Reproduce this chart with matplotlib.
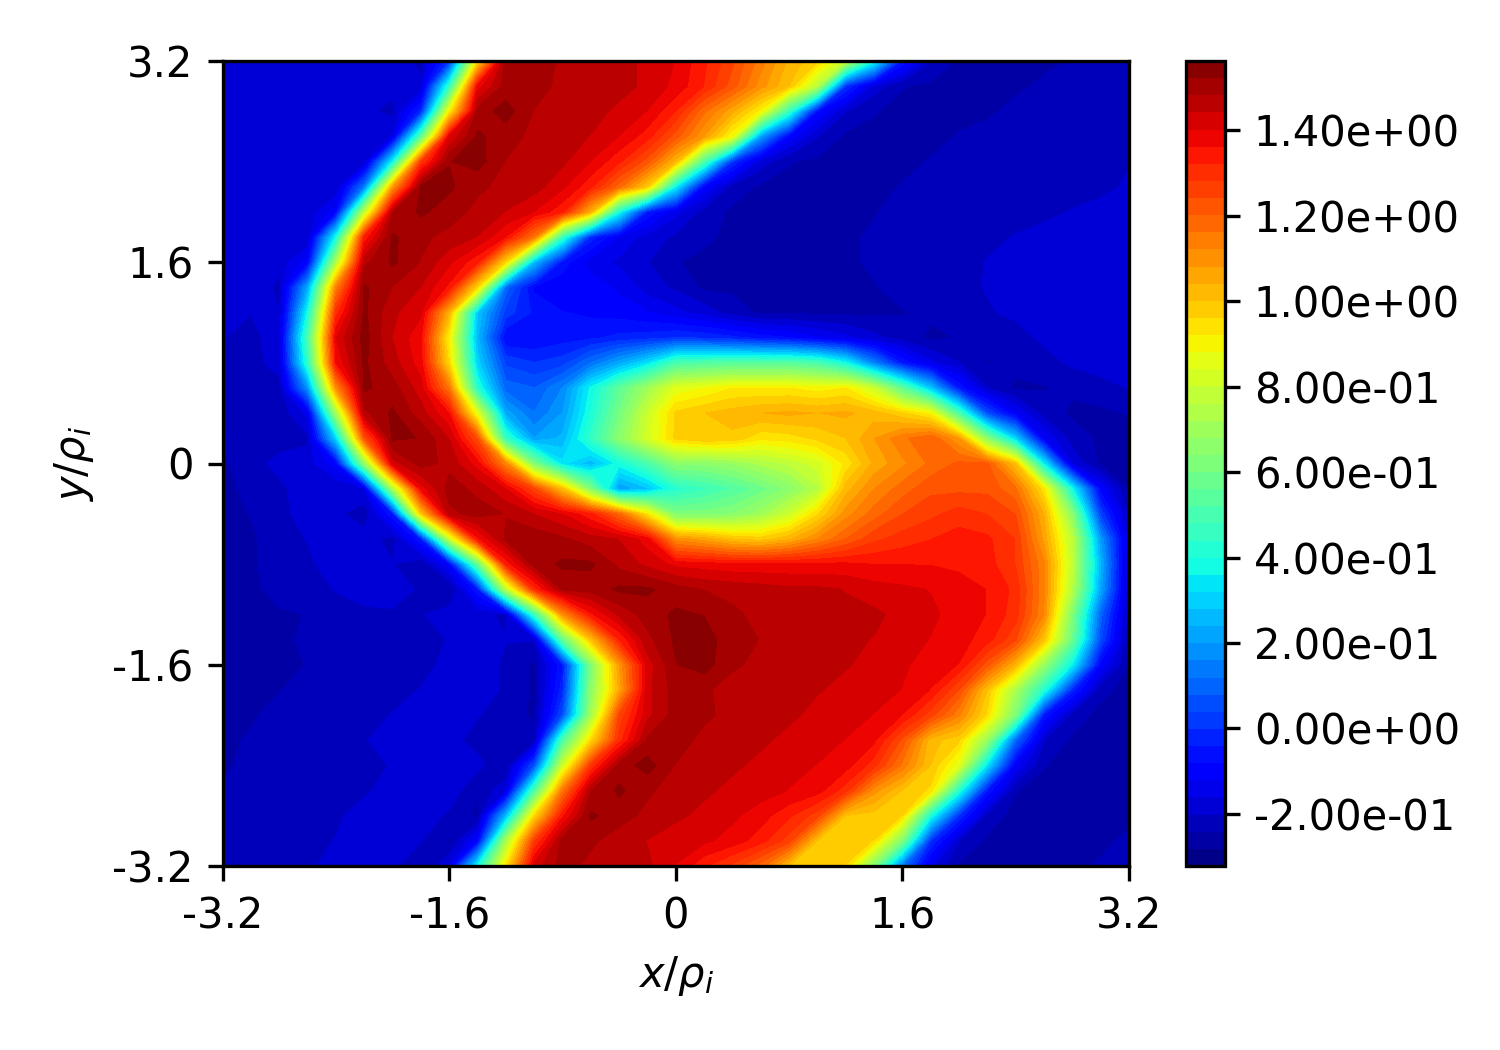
import matplotlib
matplotlib.use('Agg')
import matplotlib.pyplot as plt
import numpy as np

x_ticks = [-3.2, -1.6, 0, 1.6, 3.2]
x_tick_labels = ['-3.2', '-1.6', '0', '1.6', '3.2']
cbar_ticks = [-0.2, 0.0, 0.2, 0.4, 0.6, 0.8, 1.0, 1.2, 1.4]

# field, one row per y from 3.2 down to -3.2, step 0.2
field = [
 [-.2,-.2,-.2,-.2,-.175,-.175,-.175,-.215,0,.93,1.52,1.52,1.47,1.46,1.46,1.43,1.40,1.33,1.25,1.14,1.03,.97,.78,.38,-.05,-.2,-.25,-.25,-.25,-.25,-.24,-.225,-.215],
 [-.2,-.2,-.2,-.19,-.175,-.175,-.19,-.19,.44,1.38,1.5,1.5,1.47,1.46,1.46,1.43,1.39,1.32,1.22,1.1,1.0,.75,0,-.18,-.24,-.25,-.25,-.25,-.25,-.235,-.22,-.215,-.215],
 [-.2,-.2,-.19,-.175,-.175,-.19,-.215,-.02,.9,1.5,1.54,1.48,1.46,1.46,1.43,1.4,1.32,1.17,1.05,.9,.45,-.08,-.2,-.24,-.25,-.25,-.25,-.25,-.23,-.215,-.215,-.215,-.215],
 [-.2,-.175,-.175,-.175,-.175,-.2,-.16,.53,1.4,1.53,1.5,1.47,1.46,1.44,1.4,1.34,1.22,1.08,.88,.2,-.1,-.2,-.25,-.25,-.25,-.25,-.24,-.225,-.215,-.215,-.215,-.215,-.215],
 [-.175,-.175,-.175,-.175,-.19,-.2,.36,1.27,1.52,1.54,1.48,1.46,1.45,1.4,1.33,1.22,1.02,.5,0,-.18,-.24,-.25,-.25,-.25,-.25,-.24,-.215,-.215,-.215,-.215,-.215,-.21,-.205],
 [-.175,-.175,-.175,-.175,-.2,.13,1.07,1.53,1.53,1.49,1.47,1.46,1.41,1.33,1.18,.98,.35,-.1,-.22,-.25,-.25,-.25,-.25,-.25,-.24,-.215,-.215,-.215,-.215,-.215,-.215,-.215,-.195],
 [-.175,-.175,-.175,-.19,-.1,.76,1.48,1.53,1.5,1.47,1.44,1.4,1.33,1.03,.38,-.05,-.15,-.22,-.25,-.25,-.25,-.25,-.25,-.245,-.225,-.215,-.215,-.215,-.215,-.21,-.2,-.185,-.175],
 [-.175,-.175,-.175,-.2,.38,1.33,1.53,1.49,1.47,1.44,1.36,1.15,.45,-.02,-.13,-.18,-.21,-.235,-.25,-.25,-.25,-.25,-.25,-.235,-.215,-.215,-.215,-.21,-.2,-.19,-.175,-.175,-.175],
 [-.175,-.175,-.19,-.1,.73,1.47,1.53,1.48,1.41,1.33,.95,.25,-.06,-.14,-.17,-.2,-.24,-.25,-.25,-.25,-.25,-.25,-.25,-.235,-.215,-.215,-.215,-.2,-.19,-.175,-.175,-.175,-.175],
 [-.18,-.18,-.21,.22,1.13,1.53,1.48,1.44,1.35,.95,.1,-.09,-.11,-.1,-.13,-.18,-.21,-.25,-.25,-.25,-.25,-.25,-.25,-.245,-.225,-.21,-.21,-.2,-.185,-.175,-.175,-.175,-.175],
 [-.19,-.2,-.2,.38,1.3,1.53,1.45,1.41,1.03,.28,.02,-.05,-.08,-.09,-.1,-.12,-.15,-.18,-.22,-.25,-.25,-.25,-.25,-.25,-.245,-.235,-.21,-.205,-.195,-.185,-.175,-.175,-.175],
 [-.2,-.22,-.17,.5,1.4,1.54,1.44,1.37,.9,.25,-.08,-.08,-.06,-.05,-.03,-.02,0,-.01,-.03,-.06,-.08,-.12,-.15,-.19,-.22,-.25,-.24,-.22,-.215,-.195,-.18,-.175,-.175],
 [-.21,-.22,-.18,.44,1.36,1.53,1.46,1.38,.95,.3,.03,0,.02,.12,.22,.33,.5,.52,.53,.53,.53,.5,.38,.15,-.05,-.15,-.2,-.245,-.23,-.215,-.195,-.18,-.175],
 [-.21,-.22,-.22,.18,1.1,1.53,1.5,1.42,1.15,.42,.1,.08,.16,.37,.55,.7,.85,.88,.92,.92,.92,.9,.92,.8,.55,.28,-.05,-.2,-.25,-.245,-.235,-.22,-.2],
 [-.21,-.22,-.23,-.15,.7,1.47,1.53,1.46,1.36,.85,.22,.12,.2,.4,.6,.8,.97,1.0,1.02,1.04,1.05,1.04,1.05,1.02,.97,.9,.5,.05,-.12,-.22,-.25,-.25,-.24],
 [-.2,-.21,-.22,-.21,.3,1.22,1.53,1.52,1.44,1.23,.45,.2,.25,.45,.65,.82,.97,1.0,.99,.93,.94,.97,1.0,1.08,1.15,1.2,1.08,.65,.3,-.12,-.22,-.25,-.25],
 [-.25,-.215,-.19,-.18,-.1,.66,1.42,1.5,1.47,1.38,1.12,.62,.33,.25,.38,.5,.65,.65,.68,.73,.77,.82,.93,1.05,1.11,1.17,1.21,1.21,1.0,.35,-.17,-.25,-.25],
 [-.255,-.23,-.21,-.18,-.2,-.16,.72,1.38,1.5,1.47,1.4,1.25,1.0,.62,.2,.27,.42,.47,.52,.58,.65,.75,1.02,1.12,1.18,1.23,1.23,1.23,1.17,.93,.38,-.1,-.25],
 [-.255,-.24,-.21,-.19,-.19,-.23,-.05,.98,1.47,1.5,1.48,1.44,1.4,1.33,1.18,.92,.62,.62,.64,.7,.8,.95,1.1,1.18,1.24,1.27,1.3,1.28,1.24,1.04,.65,.03,-.22],
 [-.255,-.25,-.215,-.2,-.175,-.18,-.22,-.05,.78,1.35,1.49,1.51,1.49,1.46,1.44,1.38,1.1,1.06,1.0,.98,1.03,1.12,1.2,1.27,1.3,1.32,1.34,1.33,1.28,1.07,.77,.2,-.18],
 [-.255,-.25,-.215,-.21,-.18,-.175,-.2,-.24,-.1,.55,1.33,1.5,1.53,1.53,1.47,1.43,1.39,1.38,1.37,1.37,1.37,1.37,1.37,1.36,1.36,1.36,1.35,1.34,1.28,1.13,.78,.25,-.2],
 [-.255,-.255,-.22,-.215,-.2,-.175,-.175,-.21,-.25,-.05,.75,1.3,1.49,1.5,1.53,1.53,1.5,1.48,1.47,1.46,1.45,1.45,1.44,1.42,1.41,1.40,1.385,1.36,1.31,1.13,.75,.22,-.2],
 [-.255,-.255,-.25,-.24,-.215,-.215,-.21,-.205,-.18,-.19,-.21,.45,1.1,1.35,1.45,1.5,1.53,1.52,1.49,1.47,1.46,1.455,1.45,1.45,1.43,1.41,1.385,1.36,1.3,1.12,.63,.1,-.22],
 [-.255,-.255,-.255,-.23,-.215,-.215,-.215,-.215,-.2,-.175,-.2,-.2,.55,1.0,1.32,1.47,1.53,1.54,1.5,1.48,1.46,1.455,1.45,1.44,1.42,1.40,1.38,1.34,1.25,1.0,.58,.05,-.24],
 [-.255,-.255,-.255,-.24,-.215,-.215,-.215,-.215,-.19,-.175,-.21,-.25,-.05,.62,1.08,1.42,1.52,1.54,1.49,1.47,1.46,1.45,1.445,1.43,1.41,1.38,1.36,1.22,1.03,.68,.36,-.1,-.25],
 [-.255,-.255,-.245,-.22,-.215,-.215,-.215,-.2,-.18,-.175,-.21,-.25,-.02,.65,1.05,1.43,1.5,1.49,1.46,1.46,1.45,1.445,1.43,1.42,1.40,1.36,1.24,1.0,.72,.42,-.02,-.23,-.255],
 [-.255,-.25,-.22,-.215,-.215,-.215,-.2,-.175,-.175,-.2,-.215,-.25,.05,.7,1.25,1.43,1.5,1.49,1.47,1.46,1.45,1.43,1.42,1.40,1.36,1.26,1.13,.95,.62,-.05,-.22,-.255,-.255],
 [-.255,-.235,-.215,-.215,-.215,-.205,-.18,-.175,-.19,-.215,-.22,-.23,.5,.95,1.3,1.49,1.5,1.47,1.46,1.45,1.43,1.42,1.40,1.37,1.23,1.02,.97,.68,.1,-.2,-.25,-.255,-.255],
 [-.25,-.23,-.215,-.215,-.215,-.21,-.2,-.175,-.175,-.19,-.24,.05,.8,1.28,1.5,1.54,1.48,1.465,1.45,1.43,1.415,1.40,1.38,1.3,1.15,1.0,.85,.33,-.12,-.24,-.255,-.255,-.255],
 [-.235,-.215,-.215,-.215,-.215,-.21,-.18,-.175,-.175,-.24,-.17,.5,1.15,1.48,1.53,1.49,1.46,1.45,1.43,1.42,1.40,1.38,1.3,1.1,1.0,.95,.42,-.05,-.24,-.255,-.255,-.255,-.255],
 [-.215,-.215,-.215,-.215,-.21,-.18,-.175,-.175,-.21,-.25,.25,.95,1.35,1.53,1.5,1.47,1.45,1.43,1.41,1.38,1.33,1.26,1.0,.98,.96,.4,0,-.22,-.255,-.255,-.255,-.255,-.255],
 [-.215,-.215,-.215,-.215,-.2,-.175,-.175,-.2,-.25,-.1,.72,1.27,1.5,1.49,1.46,1.44,1.42,1.41,1.385,1.34,1.26,1.0,.97,.96,.62,0,-.2,-.25,-.255,-.255,-.255,-.255,-.23],
 [-.215,-.215,-.215,-.215,-.175,-.175,-.19,-.25,-.16,.38,.93,1.42,1.5,1.47,1.46,1.45,1.4,1.33,1.27,1.18,1.0,.97,.96,.62,.12,-.15,-.25,-.255,-.255,-.255,-.255,-.235,-.215],
]

z = np.array(field)
x = np.linspace(-3.2, 3.2, z.shape[1])
y = np.linspace(3.2, -3.2, z.shape[0])
levels = np.linspace(-0.322, 1.562, 48)

fig = plt.figure(figsize=(5, 3.5))
ax = fig.add_axes([222.7/1500, 184/1050, 906/1500, 805/1050])
cax = fig.add_axes([1185.7/1500, 184/1050, 39/1500, 805/1050])

cf = ax.contourf(x, y, z, levels=levels, cmap='jet')
ax.set_xticks(x_ticks)
ax.set_xticklabels(x_tick_labels)
ax.set_yticks(x_ticks)
ax.set_yticklabels(x_tick_labels)
ax.set_xlabel(r'$x/\rho_i$')
ax.set_ylabel(r'$y/\rho_i$')

cbar = fig.colorbar(cf, cax=cax, format='%.2e')
cbar.set_ticks(cbar_ticks)

fig.savefig('out.png', dpi=300)
